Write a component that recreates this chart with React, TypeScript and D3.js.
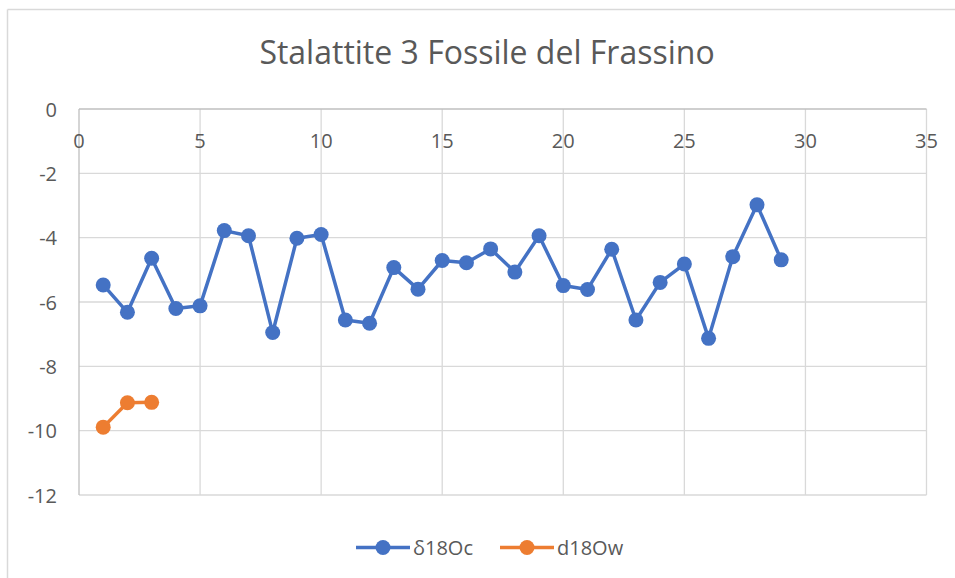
import React from "react";
import * as d3 from "d3";

const xValues = [1,2,3,4,5,6,7,8,9,10,11,12,13,14,15,16,17,18,19,20,21,22,23,24,25,26,27,28,29];
const d18Oc = [-5.47,-6.32,-4.64,-6.2,-6.12,-3.78,-3.94,-6.95,-4.02,-3.9,-6.56,-6.66,-4.93,-5.6,-4.71,-4.78,-4.35,-5.07,-3.94,-5.49,-5.61,-4.36,-6.56,-5.39,-4.82,-7.13,-4.59,-2.98,-4.69];
const xValuesW = [1,2,3];
const d18Ow = [-9.89,-9.13,-9.12];
const xTicks = [0,5,10,15,20,25,30,35];
const yTicks = [0,-2,-4,-6,-8,-10,-12];
const title = "Stalattite 3 Fossile del Frassino";
const seriesNames = ["δ18Oc", "d18Ow"];

const W = 955, H = 578;
const FONT = "'Open Sans', 'Noto Sans', sans-serif";
const TXT = "#595959";
const GRID = "#d9d9d9";
const BLUE = "#4472C4";
const ORANGE = "#ED7D31";

export default function App() {
  const x = d3.scaleLinear().domain([0, 35]).range([79, 926.5]);
  const y = d3.scaleLinear().domain([0, -12]).range([109, 495]);
  const line = d3.line<[number, number]>().x(d => x(d[0])).y(d => y(d[1]));
  const s1: [number, number][] = xValues.map((v, i) => [v, d18Oc[i]]);
  const s2: [number, number][] = xValuesW.map((v, i) => [v, d18Ow[i]]);
  const series = [
    { data: s1, color: BLUE },
    { data: s2, color: ORANGE },
  ];
  const legend = [
    { name: seriesNames[0], color: BLUE, x0: 356 },
    { name: seriesNames[1], color: ORANGE, x0: 500 },
  ];
  return (
    <svg width={W} height={H} style={{ position: "absolute", left: 0, top: 0 }}>
      <rect x={0} y={0} width={W} height={H} fill="#fff" />
      <line x1={7.5} y1={9.5} x2={W} y2={9.5} stroke={GRID} strokeWidth={1.5} />
      <line x1={7.5} y1={9.5} x2={7.5} y2={H} stroke={GRID} strokeWidth={1.5} />
      <text x={487} y={64} textAnchor="middle" fontFamily={FONT} fontSize={32} fill={TXT}>{title}</text>
      {xTicks.filter(t => t !== 0).map(t => (
        <line key={"gx" + t} x1={x(t)} x2={x(t)} y1={y(0)} y2={y(-12)} stroke={GRID} strokeWidth={1.3} />
      ))}
      {yTicks.filter(t => t !== 0).map(t => (
        <line key={"gy" + t} x1={x(0)} x2={x(35)} y1={y(t)} y2={y(t)} stroke={GRID} strokeWidth={1.3} />
      ))}
      <line x1={x(0)} x2={x(35)} y1={y(0)} y2={y(0)} stroke="#bfbfbf" strokeWidth={1.3} />
      <line x1={x(0)} x2={x(0)} y1={y(0)} y2={y(-12)} stroke="#bfbfbf" strokeWidth={1.3} />
      {xTicks.map(t => (
        <text key={"tx" + t} x={x(t)} y={147.5} textAnchor="middle" fontFamily={FONT} fontSize={20} fill={TXT}>{t}</text>
      ))}
      {yTicks.map(t => (
        <text key={"ty" + t} x={57} y={y(t) + 7.5} textAnchor="end" fontFamily={FONT} fontSize={20} fill={TXT}>{t}</text>
      ))}
      {series.map((s, i) => (
        <g key={"s" + i}>
          <path d={line(s.data) || ""} fill="none" stroke={s.color} strokeWidth={3.5} strokeLinejoin="round" />
          {s.data.map((d, j) => (
            <circle key={j} cx={x(d[0])} cy={y(d[1])} r={7.5} fill={s.color} />
          ))}
        </g>
      ))}
      {legend.map(l => (
        <g key={l.name}>
          <line x1={l.x0} x2={l.x0 + 54} y1={547.5} y2={547.5} stroke={l.color} strokeWidth={3.5} />
          <circle cx={l.x0 + 27} cy={547.5} r={7.5} fill={l.color} />
          <text x={l.x0 + 57} y={555} fontFamily={FONT} fontSize={20} fill={TXT}>{l.name}</text>
        </g>
      ))}
    </svg>
  );
}
